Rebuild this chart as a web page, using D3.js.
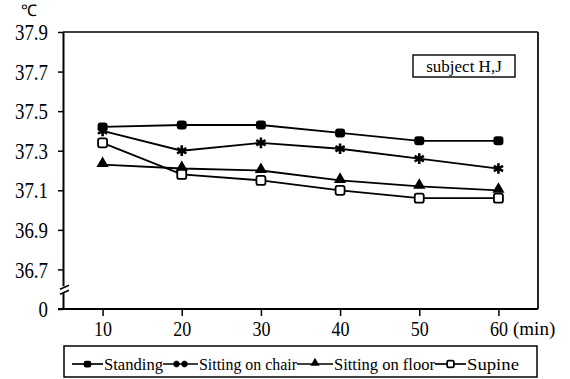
<!DOCTYPE html>
<html><head><meta charset="utf-8">
<script src="https://cdn.jsdelivr.net/npm/d3@7"></script>
</head><body style="margin:0;background:#fff"><svg id="c" width="570" height="379" style="display:block"></svg>
<script>
const times = [10, 20, 30, 40, 50, 60];
const standing = [37.42, 37.43, 37.43, 37.39, 37.35, 37.35];
const sittingChair = [37.40, 37.30, 37.34, 37.31, 37.26, 37.21];
const sittingFloor = [37.23, 37.21, 37.20, 37.15, 37.12, 37.10];
const supine = [37.34, 37.18, 37.15, 37.10, 37.06, 37.06];
const seriesNames = ["Standing", "Sitting on chair", "Sitting on floor", "Supine"];
const yTickValues = [36.5, 36.7, 36.9, 37.1, 37.3, 37.5, 37.7, 37.9];
const yTickLabels = ["0", "36.7", "36.9", "37.1", "37.3", "37.5", "37.7", "37.9"];
const xTickLabels = ["10", "20", "30", "40", "50", "60"];

const FF = "Liberation Serif";
const SX = 0.82; // horizontal condensing of the tall printed digits
const svg = d3.select("#c").attr("font-family", FF);
const L = 63, R = 538, T = 32, B = 309;
const x = d3.scaleLinear().domain([5, 65]).range([L, R]);
const y = d3.scaleLinear().domain([36.5, 37.9]).range([B, T]);

// frame
svg.append("line").attr("x1", L).attr("x2", R).attr("y1", T).attr("y2", T).attr("stroke", "#000").attr("stroke-width", 1.7);
svg.append("line").attr("x1", R).attr("x2", R).attr("y1", T).attr("y2", B).attr("stroke", "#000").attr("stroke-width", 1.7);

const yAxis = svg.append("g").attr("transform", `translate(${L},0)`)
  .call(d3.axisLeft(y).tickValues(yTickValues).tickFormat((d, i) => yTickLabels[i]).tickSize(5).tickSizeOuter(0));
yAxis.attr("font-family", FF);
yAxis.select(".domain").attr("stroke-width", 2);
yAxis.selectAll(".tick line").attr("stroke-width", 1.5);
yAxis.selectAll(".tick text").attr("font-size", 23).attr("x", -15 / SX).attr("dy", "0.33em")
  .attr("transform", `scale(${SX},1)`).style("font-family", FF);

const xAxis = svg.append("g").attr("transform", `translate(0,${B})`)
  .call(d3.axisBottom(x).tickValues(times).tickFormat((d, i) => xTickLabels[i]).tickSize(7).tickSizeOuter(0));
xAxis.attr("font-family", FF);
xAxis.select(".domain").attr("stroke-width", 2).attr("d", `M${L - 5},0H${R}`);
xAxis.selectAll(".tick line").attr("stroke-width", 1.5);
xAxis.selectAll(".tick text").attr("font-size", 22).attr("y", 27).attr("dy", 0)
  .attr("transform", `scale(${SX},1)`).style("font-family", FF);
svg.append("text").attr("x", 513).attr("y", 335).attr("font-size", 19).style("font-family", FF).text("(min)");

// axis break
const bY = (y(36.7) + B) / 2 + 1;
svg.append("rect").attr("x", L - 2).attr("y", bY - 4).attr("width", 5).attr("height", 7).attr("fill", "#fff");
[-3, 2].forEach(o => svg.append("line").attr("x1", L - 3).attr("x2", L + 6).attr("y1", bY + o + 2).attr("y2", bY + o - 2).attr("stroke", "#000").attr("stroke-width", 1.6));

// unit
svg.append("text").attr("x", 21).attr("y", 16).attr("font-size", 16).style("font-family", FF).text("℃");

// subject box
svg.append("rect").attr("x", 413).attr("y", 55).attr("width", 102).attr("height", 22).attr("fill", "none").attr("stroke", "#000").attr("stroke-width", 1.4);
svg.append("text").attr("x", 464).attr("y", 72).attr("text-anchor", "middle").attr("font-size", 17).style("font-family", FF).text("subject H,J");

const allSeries = [standing, sittingChair, sittingFloor, supine];
const shapes = ["square", "star", "triangle", "open"];

function drawMarker(g, shape, cx, cy, s) {
  s = s || 1;
  if (shape === "square") {
    g.append("rect").attr("x", cx - 5 * s).attr("y", cy - 4.5 * s).attr("width", 10 * s).attr("height", 9 * s).attr("rx", 3 * s).attr("fill", "#000");
  } else if (shape === "open") {
    g.append("rect").attr("x", cx - 4.5 * s).attr("y", cy - 4.5 * s).attr("width", 9 * s).attr("height", 9 * s).attr("rx", 2 * s).attr("fill", "#fff").attr("stroke", "#000").attr("stroke-width", 1.8);
  } else if (shape === "triangle") {
    g.append("path").attr("d", d3.symbol().type(d3.symbolTriangle).size(65 * s * s)()).attr("transform", `translate(${cx},${cy - 1})`).attr("fill", "#000");
  } else {
    g.append("path").attr("d", d3.symbol().type(d3.symbolAsterisk).size(80 * s * s)()).attr("transform", `translate(${cx},${cy})`).attr("fill", "none").attr("stroke", "#000").attr("stroke-width", 2.6);
  }
}

const line = d3.line().x((d, i) => x(times[i])).y(d => y(d));
allSeries.forEach((vals, k) => {
  svg.append("path").datum(vals).attr("d", line).attr("fill", "none").attr("stroke", "#000").attr("stroke-width", 1.8);
  const g = svg.append("g");
  vals.forEach((v, i) => drawMarker(g, shapes[k], x(times[i]), y(v)));
});

// legend
svg.append("rect").attr("x", 64).attr("y", 346).attr("width", 473).attr("height", 31).attr("fill", "none").attr("stroke", "#000").attr("stroke-width", 1.5);
const legendLineLen = [31, 35, 36, 31];
const legendTextLen = [59, 98, 101, 52];
let lx = 72;
const ly = 364;
seriesNames.forEach((name, k) => {
  const lw = legendLineLen[k];
  svg.append("line").attr("x1", lx).attr("x2", lx + lw).attr("y1", ly).attr("y2", ly).attr("stroke", "#000").attr("stroke-width", 1.7);
  const mg = svg.append("g");
  if (shapes[k] === "star") {
    drawMarker(mg, "star", lx + lw / 2 - 4, ly, 0.6);
    drawMarker(mg, "star", lx + lw / 2 + 4, ly, 0.6);
  } else {
    drawMarker(mg, shapes[k], lx + lw / 2, ly, 0.75);
  }
  svg.append("text").attr("x", lx + lw + 1).attr("y", 370).attr("font-size", 17)
    .attr("textLength", legendTextLen[k]).attr("lengthAdjust", "spacingAndGlyphs")
    .style("font-family", FF).text(name);
  lx = lx + lw + 1 + legendTextLen[k];
});
</script></body></html>
